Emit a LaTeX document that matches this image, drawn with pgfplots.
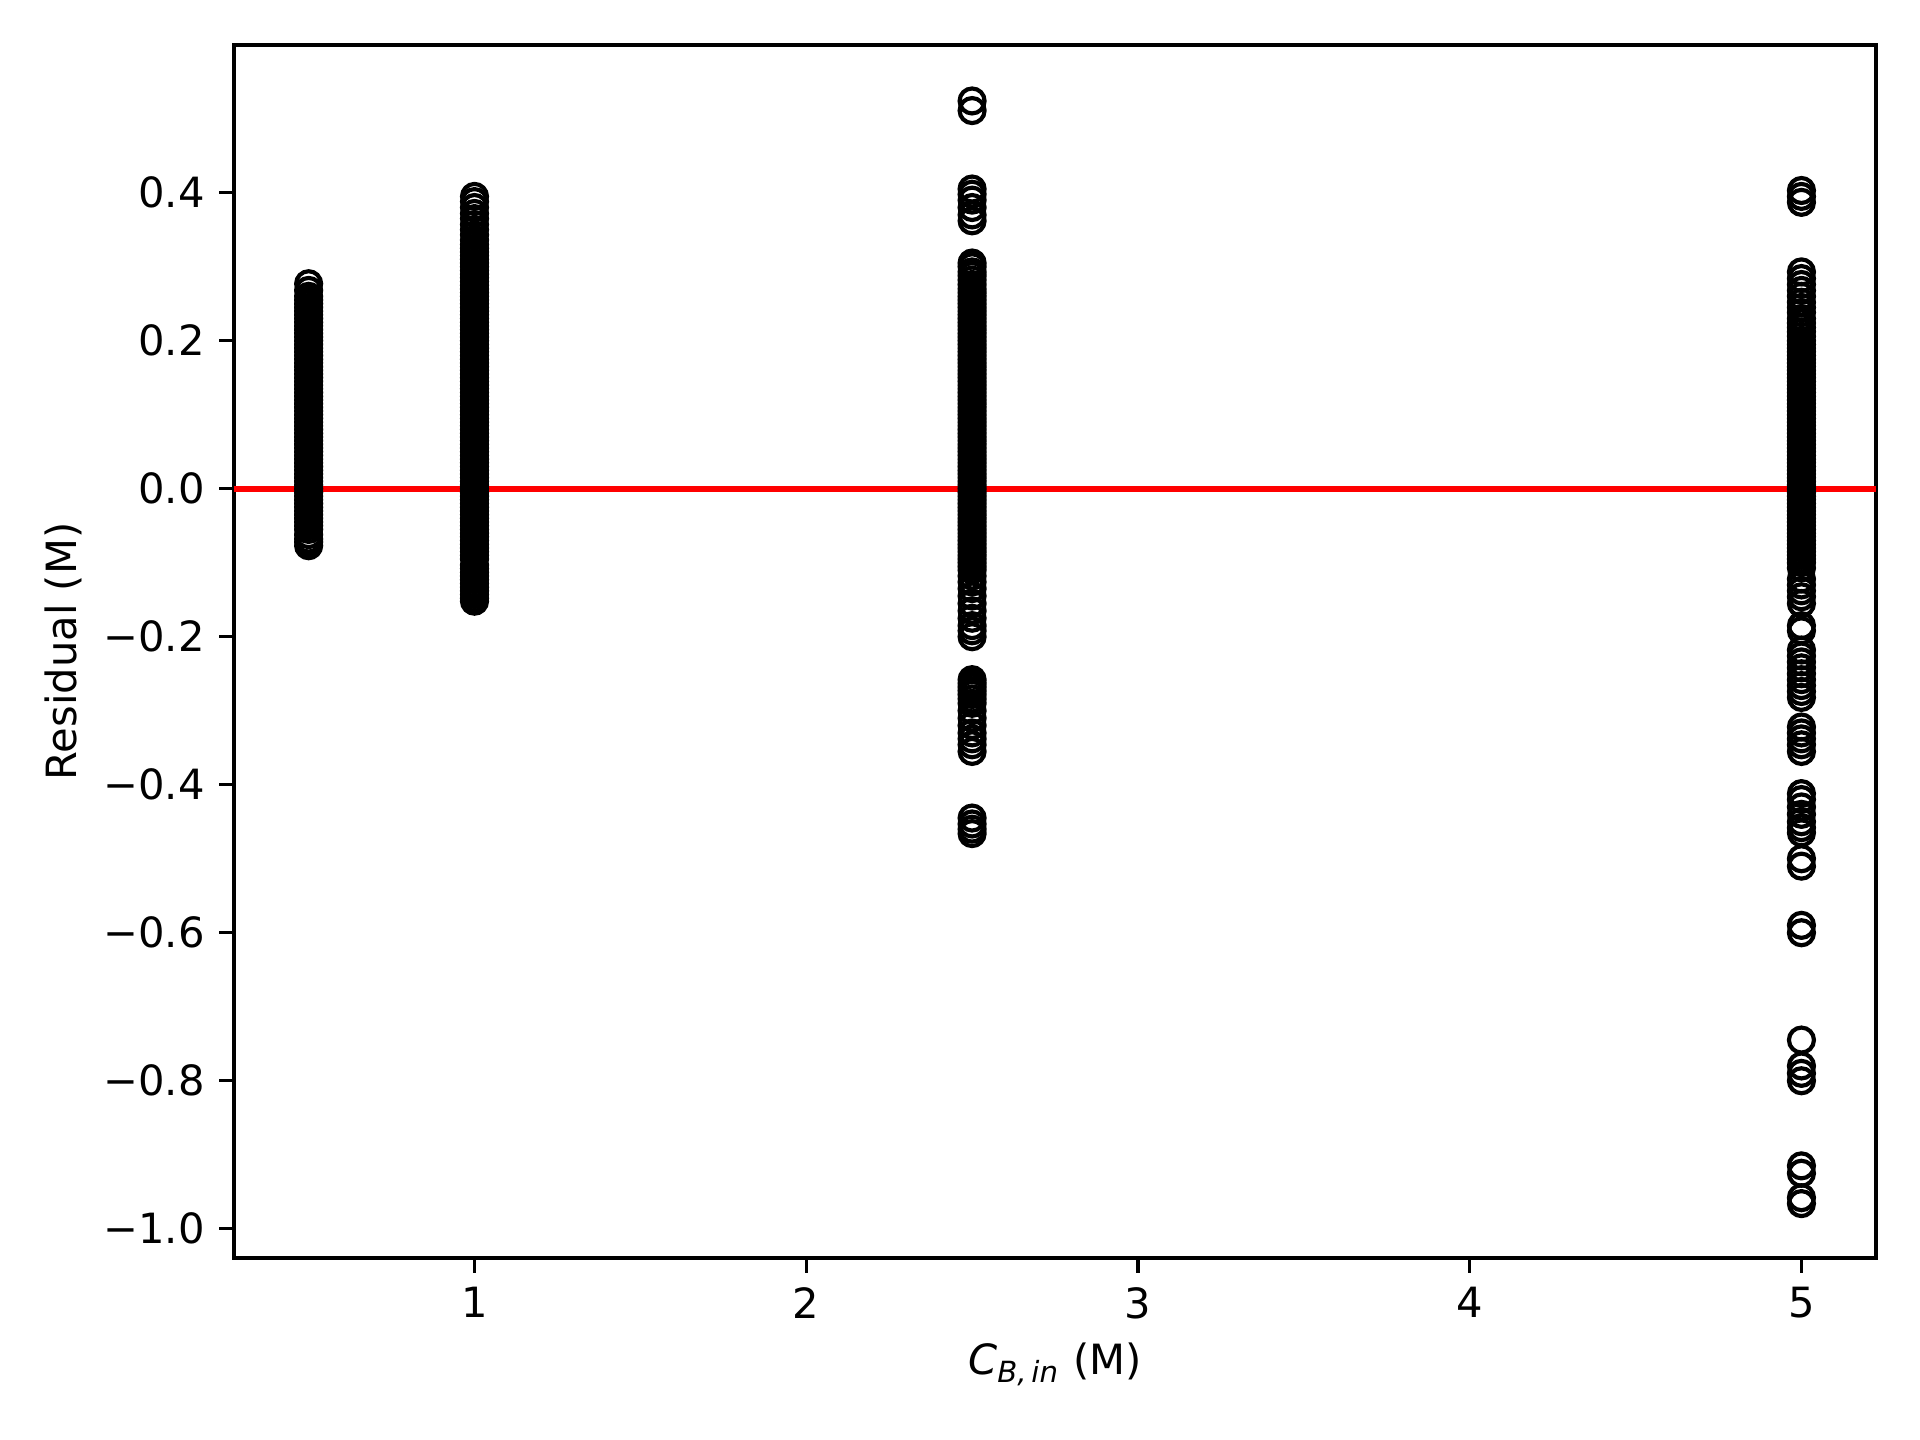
\documentclass[border=0pt,10pt]{standalone}
\usepackage{fontspec}
\setmainfont{DejaVu Sans}
\usepackage{pgfplots}
\pgfplotsset{compat=1.18}
\begin{document}
\begin{tikzpicture}
\begin{axis}[
  scale only axis,
  width=394.1pt, height=291.1pt,
  xmin=0.275, xmax=5.225,
  ymin=-1.0395, ymax=0.5995,
  axis line style={line width=0.8pt},
  every tick/.style={black, line width=0.8pt},
  tick align=outside,
  major tick length=3.5pt,
  xtick pos=bottom, ytick pos=left,
  xtick={1,2,3,4,5},
  xticklabels={1,2,3,4,5},
  ytick={-1.0,-0.8,-0.6,-0.4,-0.2,0,0.2,0.4},
  yticklabels={−1.0,−0.8,−0.6,−0.4,−0.2,0.0,0.2,0.4},
  /pgf/number format/assume math mode=true,
  xlabel={\textit{C}\textsubscript{\textit{B,\,in}} (M)},
  ylabel={Residual (M)},
  xlabel style={yshift=1pt},
  ylabel style={yshift=-1.8pt},
]
\addplot[only marks, mark=o, mark size=3pt, draw=black, line width=1pt] coordinates {
(0.5,0.277)(0.5,0.268)(0.5,0.260)(0.5,0.255)(0.5,0.250)(0.5,0.245)(0.5,0.240)(0.5,0.235)(0.5,0.230)(0.5,0.225)
(0.5,0.220)(0.5,0.215)(0.5,0.210)(0.5,0.205)(0.5,0.200)(0.5,0.195)(0.5,0.190)(0.5,0.185)(0.5,0.180)(0.5,0.175)
(0.5,0.170)(0.5,0.165)(0.5,0.160)(0.5,0.155)(0.5,0.150)(0.5,0.145)(0.5,0.140)(0.5,0.135)(0.5,0.130)(0.5,0.125)
(0.5,0.120)(0.5,0.115)(0.5,0.110)(0.5,0.105)(0.5,0.100)(0.5,0.095)(0.5,0.090)(0.5,0.085)(0.5,0.080)(0.5,0.075)
(0.5,0.070)(0.5,0.065)(0.5,0.060)(0.5,0.055)(0.5,0.050)(0.5,0.045)(0.5,0.040)(0.5,0.035)(0.5,0.030)(0.5,0.025)
(0.5,0.020)(0.5,0.015)(0.5,0.010)(0.5,0.005)(0.5,0.000)(0.5,-0.005)(0.5,-0.010)(0.5,-0.015)(0.5,-0.020)(0.5,-0.025)
(0.5,-0.030)(0.5,-0.035)(0.5,-0.040)(0.5,-0.045)(0.5,-0.050)(0.5,-0.055)(0.5,-0.062)(0.5,-0.068)(0.5,-0.072)(0.5,-0.077)
};
\addplot[only marks, mark=o, mark size=3pt, draw=black, line width=1pt] coordinates {
(1,0.395)(1,0.388)(1,0.380)(1,0.372)(1,0.365)(1,0.357)(1,0.350)(1,0.343)(1,0.336)(1,0.330)
(1,0.325)(1,0.320)(1,0.315)(1,0.310)(1,0.305)(1,0.300)(1,0.295)(1,0.290)(1,0.285)(1,0.280)
(1,0.275)(1,0.270)(1,0.265)(1,0.260)(1,0.255)(1,0.250)(1,0.245)(1,0.240)(1,0.235)(1,0.230)
(1,0.225)(1,0.220)(1,0.215)(1,0.210)(1,0.205)(1,0.200)(1,0.195)(1,0.190)(1,0.185)(1,0.180)
(1,0.175)(1,0.170)(1,0.165)(1,0.160)(1,0.155)(1,0.150)(1,0.145)(1,0.140)(1,0.135)(1,0.130)
(1,0.125)(1,0.120)(1,0.115)(1,0.110)(1,0.105)(1,0.100)(1,0.095)(1,0.090)(1,0.085)(1,0.080)
(1,0.075)(1,0.070)(1,0.065)(1,0.060)(1,0.055)(1,0.050)(1,0.045)(1,0.040)(1,0.035)(1,0.030)
(1,0.025)(1,0.020)(1,0.015)(1,0.010)(1,0.005)(1,0.000)(1,-0.005)(1,-0.010)(1,-0.015)(1,-0.020)
(1,-0.025)(1,-0.030)(1,-0.035)(1,-0.040)(1,-0.045)(1,-0.050)(1,-0.055)(1,-0.060)(1,-0.065)(1,-0.070)
(1,-0.075)(1,-0.080)(1,-0.085)(1,-0.090)(1,-0.095)(1,-0.103)(1,-0.108)(1,-0.113)(1,-0.118)(1,-0.123)
(1,-0.128)(1,-0.133)(1,-0.138)(1,-0.143)(1,-0.148)(1,-0.152)
};
\addplot[only marks, mark=o, mark size=3pt, draw=black, line width=1pt] coordinates {
(2.5,0.524)(2.5,0.511)
(2.5,0.405)(2.5,0.398)(2.5,0.390)(2.5,0.380)(2.5,0.370)(2.5,0.362)
(2.5,0.305)(2.5,0.300)(2.5,0.293)(2.5,0.288)(2.5,0.282)(2.5,0.276)(2.5,0.270)
(2.5,0.265)(2.5,0.260)(2.5,0.255)(2.5,0.250)(2.5,0.245)(2.5,0.240)(2.5,0.235)(2.5,0.230)(2.5,0.225)(2.5,0.220)
(2.5,0.215)(2.5,0.210)(2.5,0.205)(2.5,0.200)(2.5,0.195)(2.5,0.190)(2.5,0.185)(2.5,0.180)(2.5,0.175)(2.5,0.170)
(2.5,0.165)(2.5,0.160)(2.5,0.155)(2.5,0.150)(2.5,0.145)(2.5,0.140)(2.5,0.135)(2.5,0.130)(2.5,0.125)(2.5,0.120)
(2.5,0.115)(2.5,0.110)(2.5,0.105)(2.5,0.100)(2.5,0.095)(2.5,0.090)(2.5,0.085)(2.5,0.080)(2.5,0.075)(2.5,0.070)
(2.5,0.065)(2.5,0.060)(2.5,0.055)(2.5,0.050)(2.5,0.045)(2.5,0.040)(2.5,0.035)(2.5,0.030)(2.5,0.025)(2.5,0.020)
(2.5,0.015)(2.5,0.010)(2.5,0.005)(2.5,0.000)(2.5,-0.005)(2.5,-0.010)(2.5,-0.015)(2.5,-0.020)(2.5,-0.025)(2.5,-0.030)
(2.5,-0.035)(2.5,-0.040)(2.5,-0.045)(2.5,-0.050)(2.5,-0.055)(2.5,-0.060)(2.5,-0.065)(2.5,-0.070)(2.5,-0.075)(2.5,-0.080)
(2.5,-0.085)(2.5,-0.090)(2.5,-0.095)(2.5,-0.100)(2.5,-0.105)(2.5,-0.110)
(2.5,-0.118)(2.5,-0.126)(2.5,-0.135)(2.5,-0.145)(2.5,-0.155)(2.5,-0.165)(2.5,-0.175)(2.5,-0.185)(2.5,-0.192)(2.5,-0.200)
(2.5,-0.258)(2.5,-0.263)(2.5,-0.268)(2.5,-0.273)(2.5,-0.278)(2.5,-0.284)(2.5,-0.290)(2.5,-0.300)(2.5,-0.310)(2.5,-0.320)
(2.5,-0.330)(2.5,-0.338)(2.5,-0.346)(2.5,-0.355)
(2.5,-0.445)(2.5,-0.453)(2.5,-0.460)(2.5,-0.466)
};
\addplot[only marks, mark=o, mark size=3pt, draw=black, line width=1pt] coordinates {
(5,0.403)(5,0.395)(5,0.387)
(5,0.293)(5,0.284)(5,0.276)(5,0.268)(5,0.260)(5,0.252)(5,0.245)(5,0.238)(5,0.230)(5,0.224)
(5,0.218)(5,0.212)(5,0.206)
(5,0.200)(5,0.195)(5,0.190)(5,0.185)(5,0.180)(5,0.175)(5,0.170)(5,0.165)(5,0.160)(5,0.155)
(5,0.150)(5,0.145)(5,0.140)(5,0.135)(5,0.130)(5,0.125)(5,0.120)(5,0.115)(5,0.110)(5,0.105)
(5,0.100)(5,0.095)(5,0.090)(5,0.085)(5,0.080)(5,0.075)(5,0.070)(5,0.065)(5,0.060)(5,0.055)
(5,0.050)(5,0.045)(5,0.040)(5,0.035)(5,0.030)(5,0.025)(5,0.020)(5,0.015)(5,0.010)(5,0.005)
(5,0.000)(5,-0.005)(5,-0.010)(5,-0.015)(5,-0.020)(5,-0.025)(5,-0.030)(5,-0.035)(5,-0.040)(5,-0.045)
(5,-0.050)(5,-0.055)(5,-0.060)(5,-0.065)(5,-0.070)(5,-0.075)(5,-0.080)(5,-0.085)(5,-0.090)(5,-0.095)
(5,-0.100)(5,-0.107)
(5,-0.122)(5,-0.130)(5,-0.138)(5,-0.146)(5,-0.155)
(5,-0.185)(5,-0.192)
(5,-0.218)(5,-0.226)(5,-0.234)(5,-0.242)(5,-0.250)(5,-0.258)(5,-0.266)(5,-0.274)(5,-0.282)
(5,-0.322)(5,-0.330)(5,-0.338)(5,-0.346)(5,-0.355)
(5,-0.412)(5,-0.420)(5,-0.430)(5,-0.440)(5,-0.450)(5,-0.458)(5,-0.465)
(5,-0.500)(5,-0.510)
(5,-0.590)(5,-0.600)
(5,-0.745)
(5,-0.780)(5,-0.790)(5,-0.800)
(5,-0.915)(5,-0.925)
(5,-0.958)(5,-0.966)
};
\addplot[red, line width=1.5pt, no marks] coordinates {(0.275,0) (5.225,0)};
\end{axis}
\pgfresetboundingbox
\path (current axis.south west) ++(-56.16pt,-43.68pt) rectangle ++(460.8pt,345.6pt);
\end{tikzpicture}
\end{document}
